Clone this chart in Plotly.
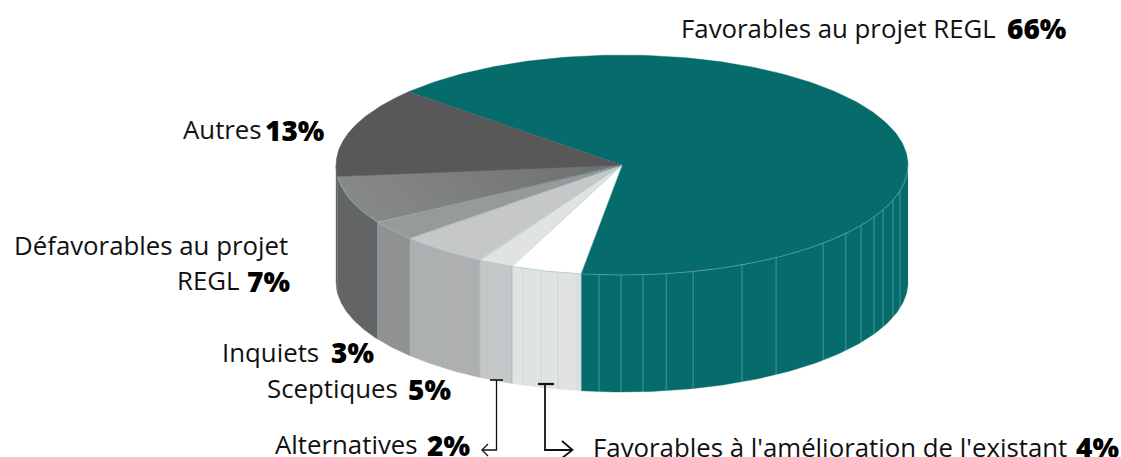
import numpy as np
import plotly.graph_objects as go

# ---- data ----
slice_names = ["Favorables au projet REGL", "Favorables à l'amélioration de l'existant",
               "Alternatives", "Sceptiques", "Inquiets", "Défavorables au projet REGL", "Autres"]
# printed percentages
label_values = [66, 4, 2, 5, 3, 7, 13]
# drawn shares
slice_values = [65.7, 4, 2, 5, 3, 7, 13.3]

# ---- style ----
top_colors = ["#056B6B", "#FFFFFF", "#E1E3E2", "#C5C7C8", "#97999A", "#7A7B7C", "#58585A"]
wall_colors = ["#056B6B", "#E1E3E2", "#C5C7C8", "#ADAFB0", "#8F9192", "#636466", "#636466"]
EDGE = "rgba(143,190,186,0.85)"
SEAM = "rgba(165,205,203,0.55)"
FONT = "Open Sans"
FS = 25.8
FS_PCT = 28

W, H = 1121, 457
CX, CY, RX, RY, DEPTH = 622, 165, 286, 110, 117
START_DEG = -138.3          # screen angle of first slice start, clockwise
# facet seams on the pie's side wall (degrees, clockwise from the right)
seam_angles = [13.6, 18.6, 24.1, 28.2, 33.3, 38.5, 45.3, 57.4, 65.2, 75.6, 81.1, 85.8, 90.2, 94.6,
               99, 102.9, 106.4, 110.2, 114.6, 118.4, 123.5, 128.2, 134.4]


def px(t, r=1.0):
    return CX + r * RX * np.cos(np.radians(t))


def py(t, r=1.0, dz=0.0):
    return CY + r * RY * np.sin(np.radians(t)) + dz


fig = go.Figure()


def poly(x, y, fill):
    fig.add_trace(go.Scatter(x=list(x), y=list(y), mode="lines", fill="toself", fillcolor=fill,
                             line=dict(color=fill, width=0.4),
                             hoverinfo="skip", showlegend=False))


def stroke(x, y, color, lw):
    fig.add_trace(go.Scatter(x=list(x), y=list(y), mode="lines", line=dict(color=color, width=lw),
                             hoverinfo="skip", showlegend=False))


total = sum(slice_values)
edges = START_DEG + np.cumsum([0] + slice_values) * 360.0 / total
spans = list(zip(edges[:-1], edges[1:]))

# side walls (only the front half, 0..180 degrees)
for (a, b), col in zip(spans, wall_colors):
    lo, hi = max(a, 0), min(b, 180)
    if hi <= lo:
        continue
    t = np.linspace(lo, hi, 120)
    poly(np.r_[px(t), px(t[::-1])], np.r_[py(t), py(t[::-1], dz=DEPTH)], col)

# seams on the wall
for s in seam_angles:
    stroke([px(s), px(s)], [py(s), py(s, dz=DEPTH)], SEAM, 0.8)
# walls' slice boundaries
for e in edges[1:6]:
    stroke([px(e), px(e)], [py(e), py(e, dz=DEPTH)], EDGE, 0.8)

# top faces
for i, ((a, b), col) in enumerate(zip(spans, top_colors)):
    t = np.linspace(a, b, 240)
    poly(np.r_[CX, px(t), CX], np.r_[CY, py(t), CY], col)
    if slice_names[i].startswith("Défavorables"):
        # soft radial shading: lighter at the rim
        for r, g in zip(np.linspace(1.0, 0.12, 28), np.linspace(0x87, 0x70, 28)):
            g = int(round(g))
            poly(np.r_[CX, px(t, r), CX], np.r_[CY, py(t, r), CY], f"rgb({g},{g + 1},{g + 2})")

# rim and radial hairlines
for (a, b) in spans[1:6]:
    t = np.linspace(a, b, 60)
    stroke(px(t), py(t), EDGE, 0.8)
t = np.linspace(0, spans[0][1], 160)
stroke(px(t), py(t), SEAM, 0.8)
for e in edges[1:6]:
    stroke([CX, px(e)], [CY, py(e)], EDGE, 0.6)

# leader lines
stroke([490, 503], [380, 380], "#111111", 1.6)
stroke([496.5, 496.5, 482], [380, 450, 450], "#111111", 1.3)
stroke([488, 482, 488], [444, 450, 456], "#111111", 1.3)
stroke([538, 554], [384, 384], "#111111", 2.2)
stroke([545, 545, 572], [384, 450, 450], "#111111", 1.8)
stroke([562, 572.5, 562], [441, 450, 458], "#111111", 1.8)


def label(text, x, y, anchor="right"):
    fig.add_annotation(x=x, y=y, text=text, xref="x", yref="y", showarrow=False, xanchor=anchor,
                       yanchor="middle", font=dict(family=FONT, size=FS, color="#111111"))


def pct(value, x, y):
    fig.add_annotation(x=x, y=y, text=f"{value}%", xref="x", yref="y", showarrow=False, xanchor="left",
                       yanchor="middle", font=dict(family=FONT, size=FS_PCT, color="#000000", weight=800))


v = dict(zip(slice_names, label_values))
label("Favorables au projet REGL", 998, 28)
pct(v["Favorables au projet REGL"], 1005, 28)
label("Autres", 264, 129)
pct(v["Autres"], 263, 130)
label("Défavorables au projet", 290, 245)
label("REGL", 241, 280)
pct(v["Défavorables au projet REGL"], 245, 281)
label("Inquiets", 321, 352)
pct(v["Inquiets"], 329, 352)
label("Sceptiques", 400, 388)
pct(v["Sceptiques"], 406, 389)
label("Alternatives", 420, 444)
pct(v["Alternatives"], 425, 445)
label("Favorables à l'amélioration de l'existant", 1069, 447)
pct(v["Favorables à l'amélioration de l'existant"], 1074, 447)

fig.update_layout(
    width=W, height=H, margin=dict(l=0, r=0, t=0, b=0),
    plot_bgcolor="white", paper_bgcolor="white", showlegend=False,
    xaxis=dict(range=[0, W], visible=False, fixedrange=True),
    yaxis=dict(range=[H, 0], visible=False, fixedrange=True),
)
fig.write_html("out.html", config={"displayModeBar": False},
               post_script="document.body.style.margin='0';document.body.style.overflow='hidden';")
